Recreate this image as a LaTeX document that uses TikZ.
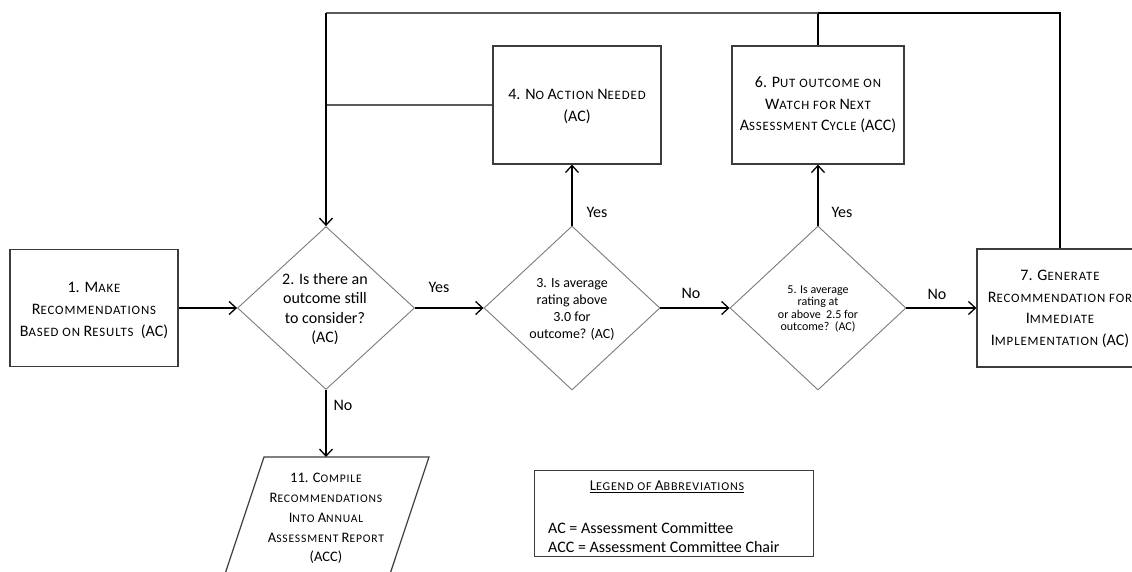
\documentclass[tikz,border=0pt]{standalone}
\usepackage{fontspec}
\setmainfont{Carlito}
\usetikzlibrary{shapes.geometric,arrows.meta}

% simple small-caps: capitals scaled down and slightly tracked
\makeatletter
\newcommand\lc[1]{{\fontsize{\fpeval{0.8*\f@size}}{\f@baselineskip}\selectfont\addfontfeature{LetterSpace=7}\MakeUppercase{#1}}}
\makeatother

\definecolor{boxgray}{HTML}{3C3C3C}
\definecolor{diagray}{HTML}{7A7A7A}
\definecolor{linkgray}{HTML}{5A5A5A}

\tikzset{
  procbox/.style={draw=boxgray, line width=1.2pt, rectangle, inner sep=0pt},
  decision/.style={draw=diagray, line width=0.9pt, diamond, inner sep=0pt},
  conn/.style={line width=1.5pt, draw=black},
  flow/.style={conn, -{Straight Barb[length=7pt,width=13pt,line width=1.3pt]}},
  thinlink/.style={line width=1.1pt, draw=linkgray},
  lbl/.style={font=\fontsize{16}{19}\selectfont, inner sep=0pt},
  txt/.style={align=center, inner sep=0pt},
}

\begin{document}
\begin{tikzpicture}[x=1pt,y=-1pt]
\useasboundingbox (0,0) rectangle (1132,571);
\clip (0,0) rectangle (1132,571);

% process boxes
\node[procbox, minimum width=168pt, minimum height=117pt] (b1) at (94,308) {};
\node[txt, font=\fontsize{16}{22}\selectfont] (b1t) at (94,310)
  {1. M\lc{ake}\\R\lc{ecommendations}\\B\lc{ased on} R\lc{esults}\ \ (AC)};

\node[procbox, minimum width=168pt, minimum height=118pt] (b4) at (577,105) {};
\node[txt, font=\fontsize{16}{22}\selectfont] (b4t) at (577,106)
  {4. N\lc{o} A\lc{ction} N\lc{eeded}\\(AC)};

\node[procbox, minimum width=172pt, minimum height=118pt] (b6) at (818,105) {};
\node[txt, font=\fontsize{16}{21.5}\selectfont] (b6t) at (818,105)
  {6. P\lc{ut outcome on}\\W\lc{atch for} N\lc{ext}\\A\lc{ssessment} C\lc{ycle} (ACC)};

\node[procbox, minimum width=166pt, minimum height=118pt] (b7) at (1060,308) {};
\node[txt, font=\fontsize{16}{21.7}\selectfont] (b7t) at (1060,309)
  {7. G\lc{enerate}\\R\lc{ecommendation for}\\I\lc{mmediate}\\I\lc{mplementation} (AC)};

% decisions
\node[decision, minimum width=177pt, minimum height=163pt] (d2) at (326,308) {};
\node[txt, font=\fontsize{16}{19.5}\selectfont] (d2t) at (325,309)
  {2. Is there an\\outcome still\\to consider?\\(AC)};

\node[decision, minimum width=176pt, minimum height=164pt] (d3) at (572,308) {};
\node[txt, font=\fontsize{14}{17}\selectfont] (d3t) at (572,309)
  {3. Is average\\rating above\\3.0 for\\outcome? (AC)};

\node[decision, minimum width=176pt, minimum height=164pt] (d5) at (818,308) {};
\node[txt, font=\fontsize{12}{12.5}\selectfont] (d5t) at (818,309)
  {5. Is average\\rating at\\or above\ \ 2.5 for\\outcome?\ \ (AC)};

% report (parallelogram)
\coordinate (p11) at (326,457);
\draw[draw=boxgray, line width=1.2pt] (264,457) -- (429,457) -- (384.7,590) -- (219.7,590) -- cycle;
\node[txt, font=\fontsize{14.5}{19.8}\selectfont] (p11t) at (326,518.5)
  {11. C\lc{ompile}\\R\lc{ecommendations}\\I\lc{nto} A\lc{nnual}\\A\lc{ssessment} R\lc{eport}\\(ACC)};

% legend
\node[procbox, line width=1pt, minimum width=279pt, minimum height=86pt] (leg) at (673.5,513) {};
\node[inner sep=0pt, font=\fontsize{15}{17}\selectfont] (legt) at (667,487)
  {\underline{L\lc{egend of} A\lc{bbreviations}}};
\node[inner sep=0pt, anchor=west, font=\fontsize{16}{19}\selectfont] (leg1) at (548,528)
  {AC = Assessment Committee};
\node[inner sep=0pt, anchor=west, font=\fontsize{16}{19}\selectfont] (leg2) at (548,547)
  {ACC = Assessment Committee Chair};

% main flow
\draw[flow] (b1.east) -- (d2.west);
\draw[flow] (d2.east) -- (d3.west);
\draw[flow] (d3.east) -- (d5.west);
\draw[flow] (d5.east) -- (b7.west);
\draw[flow] (d3.north) -- (d3.north |- b4.south);
\draw[flow] (d5.north) -- (b6.south);
\draw[flow] (d2.south) -- (p11);

% loop back to decision 2
\coordinate (tl) at (326,13);
\coordinate (tm) at (818,13);
\coordinate (tr) at (1060,13);
\coordinate (ml) at (326,105);
\draw[conn] (b7.north) -- (tr) -- (tm);
\draw[conn] (b6.north) -- (tm);
\draw[thinlink] (tm) -- (tl);
\draw[thinlink] (b4.west) -- (ml);
\draw[flow] (tl) -- (d2.north);

% branch labels
\node[lbl] (yes1) at (439,287) {Yes};
\node[lbl] (no1) at (691,293) {No};
\node[lbl] (no2) at (937,294) {No};
\node[lbl] (yes2) at (597,212) {Yes};
\node[lbl] (yes3) at (842,212) {Yes};
\node[lbl] (no3) at (343,405) {No};
\end{tikzpicture}
\end{document}
